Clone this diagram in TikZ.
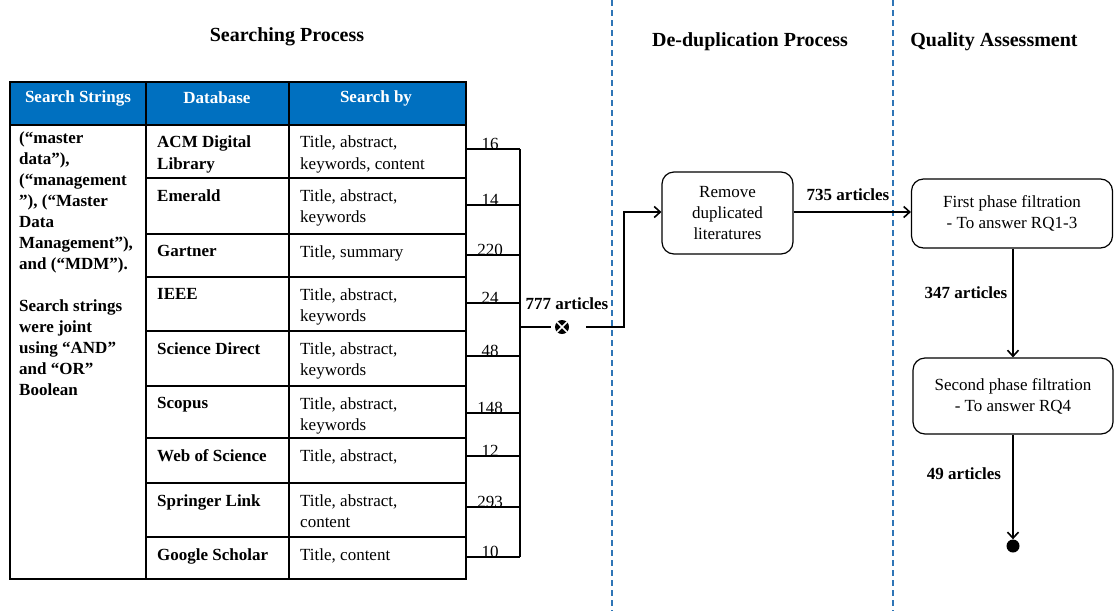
\documentclass[tikz,border=0pt]{standalone}
\usepackage{fontspec}
\setmainfont{Liberation Serif}
\usetikzlibrary{arrows.meta}
\definecolor{hdrblue}{HTML}{0070C0}
\definecolor{dashblue}{HTML}{2E75B6}
\begin{document}
\begin{tikzpicture}[x=1pt,y=-1pt,
  every node/.style={font=\fontsize{17}{21}\selectfont},
  title/.style={font=\fontsize{20}{23}\selectfont\bfseries},
  hdr/.style={font=\fontsize{17}{21}\selectfont\bfseries, text=white},
  dbtext/.style={anchor=north west, inner sep=0pt, align=left, font=\fontsize{17}{21}\selectfont\bfseries},
  bytext/.style={anchor=north west, inner sep=0pt, align=left},
  numlbl/.style={anchor=base, inner sep=1pt},
  tbl/.style={line width=1.9pt},
  conn/.style={line width=1.8pt},
  arr/.style={line width=1.8pt, -{Straight Barb[length=6pt,width=11pt,line width=1.6pt]}},
  procbox/.style={draw, line width=1.2pt, rounded corners=12pt, align=center},
  cnt/.style={font=\fontsize{17}{21}\selectfont\bfseries},
  divider/.style={dashblue, line width=1.8pt, dash pattern=on 6pt off 4pt}
]
\useasboundingbox (0,0) rectangle (1114,611);

% dividers
\draw[divider] (612,0) -- (612,611);
\draw[divider] (893,0) -- (893,611);

% titles
\node[title] (t1) at (287,37) {Searching Process};
\node[title] (t2) at (750,42) {De-duplication Process};
\node[title] (t3) at (994,42) {Quality Assessment};

% table header
\fill[hdrblue] (10,82) rectangle (466,125);
\node[hdr] (h1) at (78,98) {Search Strings};
\node[hdr] (h2) at (217,98) {Database};
\node[hdr] (h3) at (376,98) {Search by};

% table grid
\draw[tbl] (10,82) rectangle (466,579);
\draw[tbl] (146,82) -- (146,579);
\draw[tbl] (289,82) -- (289,579);
\draw[tbl] (10,125) -- (466,125);
\foreach \yy in {178,234,277,331,386,438,483,537}
  \draw[tbl] (146,\yy) -- (466,\yy);

% search strings
\node[dbtext] (ss) at (19,131) {(“master\\ data”),\\ (“management\\ ”), (“Master\\ Data\\ Management”),\\ and (“MDM”).\\[21pt] Search strings\\ were joint\\ using “AND”\\ and “OR”\\ Boolean};

% rows
\node[dbtext] (d1) at (157,136) {ACM Digital\\Library};
\node[bytext] (s1) at (300,136) {Title, abstract,\\keywords, content};
\node[dbtext] (d2) at (157,189) {Emerald};
\node[bytext] (s2) at (300,189) {Title, abstract,\\keywords};
\node[dbtext] (d3) at (157,245) {Gartner};
\node[bytext] (s3) at (300,245) {Title, summary};
\node[dbtext] (d4) at (157,288) {IEEE};
\node[bytext] (s4) at (300,288) {Title, abstract,\\keywords};
\node[dbtext] (d5) at (157,342) {Science Direct};
\node[bytext] (s5) at (300,342) {Title, abstract,\\keywords};
\node[dbtext] (d6) at (157,397) {Scopus};
\node[bytext] (s6) at (300,397) {Title, abstract,\\keywords};
\node[dbtext] (d7) at (157,449) {Web of Science};
\node[bytext] (s7) at (300,449) {Title, abstract,};
\node[dbtext] (d8) at (157,494) {Springer Link};
\node[bytext] (s8) at (300,494) {Title, abstract,\\content};
\node[dbtext] (d9) at (157,548) {Google Scholar};
\node[bytext] (s9) at (300,548) {Title, content};

% count lines to bus
\foreach \i/\yy/\n in {1/149/16,2/205/14,3/255/220,4/303/24,5/356/48,6/413/148,7/456/12,8/507/293,9/557/10}{
  \coordinate (r\i) at (465,\yy);
  \coordinate (b\i) at (520,\yy);
  \draw[conn] (r\i) -- (b\i);
  \node[numlbl] (n\i) at (490,\yy) {\n};
}
\draw[conn] (b1) -- (b9);

% junction
\coordinate (bj) at (520,327);
\coordinate (jl) at (551,327);
\coordinate (jr) at (586,327);
\coordinate (jc) at (624,327);
\coordinate (jt) at (624,212);
\node[circle, fill=black, minimum size=14pt, inner sep=0pt] (sym) at (562,327) {};
\draw[white, line width=1.6pt] (sym.north west) -- (sym.south east) (sym.north east) -- (sym.south west);
\node[cnt] (a777) at (567,304) {777 articles};
\draw[conn] (bj) -- (jl);

% process boxes
\node[procbox, minimum width=131pt, minimum height=82pt] (rem) at (727.5,213) {Remove\\duplicated\\literatures};
\node[procbox, minimum width=201pt, minimum height=69pt] (first) at (1012,213.5) {First phase filtration\\- To answer RQ1-3};
\node[procbox, minimum width=200pt, minimum height=76pt] (second) at (1013,396) {Second phase filtration\\- To answer RQ4};
\node[circle, fill=black, minimum size=13pt, inner sep=0pt] (dot) at (1013,546) {};

\draw[arr] (jr) -- (jc) -- (jt) -- (rem.west |- jt);
\draw[arr] (rem.east |- jt) -- (first.west |- jt);
\node[cnt] (a735) at (848,195) {735 articles};
\draw[arr] (first.south -| second.north) -- (second.north);
\node[cnt] (a347) at (966,293) {347 articles};
\draw[arr] (second.south) -- (dot.north);
\node[cnt] (a49) at (964,474) {49 articles};
\end{tikzpicture}
\end{document}
